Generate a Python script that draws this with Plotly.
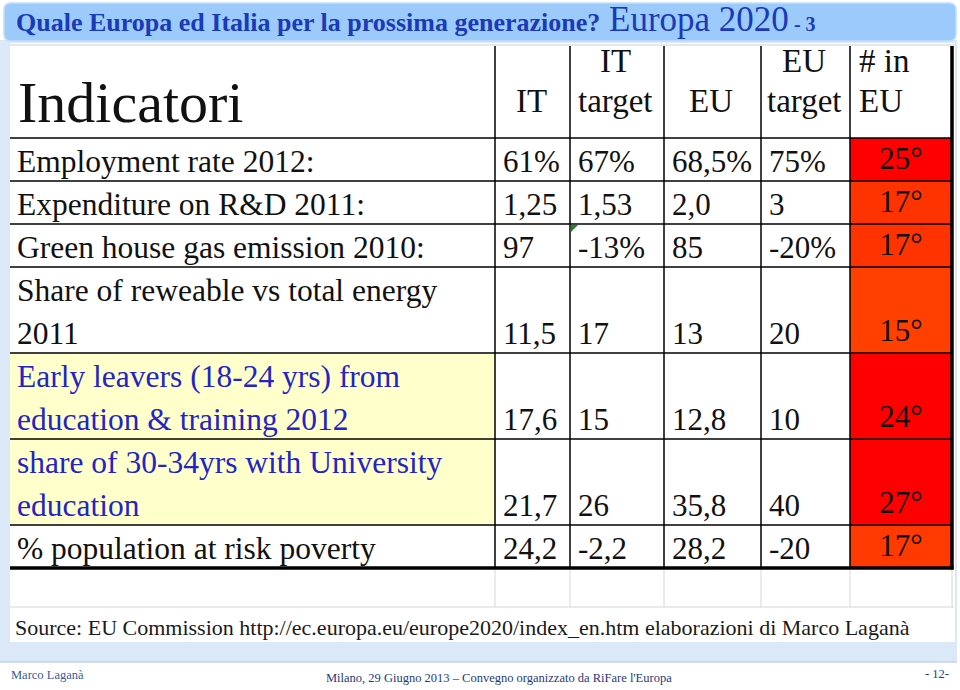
import plotly.graph_objects as go

# ---------------- data ----------------
title_main = "Quale Europa ed Italia per la prossima generazione?"
title_big = "Europa 2020"
title_suffix = " - 3"
first_header = "Indicatori"
column_headers = [["IT"], ["IT", "target"], ["EU"], ["EU", "target"], ["# in", "EU"]]
indicators = [
    ["Employment rate 2012:"],
    ["Expenditure on R&D 2011:"],
    ["Green house gas emission 2010:"],
    ["Share of reweable vs total energy", "2011"],
    ["Early leavers (18-24 yrs) from", "education & training 2012"],
    ["share of 30-34yrs with University", "education"],
    ["% population at risk poverty"],
]
it_values = ["61%", "1,25", "97", "11,5", "17,6", "21,7", "24,2"]
it_targets = ["67%", "1,53", "-13%", "17", "15", "26", "-2,2"]
eu_values = ["68,5%", "2,0", "85", "13", "12,8", "35,8", "28,2"]
eu_targets = ["75%", "3", "-20%", "20", "10", "40", "-20"]
eu_rank = [25, 17, 17, 15, 24, 27, 17]
source_note = ("Source: EU Commission http://ec.europa.eu/europe2020/index_en.htm "
               "elaborazioni di Marco Laganà")
footer_left = "Marco Laganà"
footer_center = "Milano, 29 Giugno 2013 – Convegno organizzato da RiFare l'Europa"
footer_right = "- 12-"

# ---------------- styles / geometry ----------------
SERIF = "Liberation Serif, DejaVu Serif, serif"
TITLE_BLUE = "#1A3AB8"
HILITE_TEXT = "#2424C4"
HILITE_FILL = "#FFFFCC"
rank_colors = ["#FF0000", "#FF3300", "#FF3300", "#FF4000", "#FF0000", "#FF0000", "#FF3A00"]
highlight_rows = {4, 5}

COL = [10, 495, 570, 664, 761, 850, 952]
TOP = 46
HEAD_BOTTOM = 138
LINE_H = 43
BODY_FS = 31.5
VAL_FS = 31
HEAD_FS = 33

row_bottoms = []
b = HEAD_BOTTOM
for lines in indicators:
    b += LINE_H * len(lines)
    row_bottoms.append(b)
row_tops = [HEAD_BOTTOM] + row_bottoms[:-1]
TABLE_BOTTOM = row_bottoms[-1]

shapes = []
annotations = []


def ycenter(baseline, size):
    return baseline - 0.34 * size


def txt(x, baseline, text, size, color="#111111", anchor="left", bold=False, family=SERIF):
    annotations.append(dict(
        x=x, y=ycenter(baseline, size), xref="x", yref="y", text=(f"<b>{text}</b>" if bold else text),
        showarrow=False, xanchor=anchor, yanchor="middle", borderpad=0,
        font=dict(family=family, size=size, color=color)))


def rect(x0, y0, x1, y1, fill, line=None, lw=0, layer="below"):
    shapes.append(dict(type="rect", xref="x", yref="y", x0=x0, y0=y0, x1=x1, y1=y1,
                       fillcolor=fill, line=dict(color=line or fill, width=lw), layer=layer))


def hline(x0, x1, y, color="#000000", w=1.5):
    shapes.append(dict(type="line", xref="x", yref="y", x0=x0, x1=x1, y0=y, y1=y,
                       line=dict(color=color, width=w), layer="above"))


def vline(x, y0, y1, color="#000000", w=1.5):
    shapes.append(dict(type="line", xref="x", yref="y", x0=x, x1=x, y0=y0, y1=y1,
                       line=dict(color=color, width=w), layer="above"))


# slide background frame
rect(0, 40, 957, 662, "#DAE8F7")
hline(0, 957, 662, "#A9C6E8", 1)
rect(10, 43, 955, 642, "#FFFFFF")
hline(10, 955, 45, "#CFCFCF", 1)

# title bar (rounded)
r = 7
x0, x1, y0, y1 = 4, 956, 3, 41
path = (f"M {x0+r},{y0} L {x1-r},{y0} Q {x1},{y0} {x1},{y0+r} L {x1},{y1-r} Q {x1},{y1} {x1-r},{y1} "
        f"L {x0+r},{y1} Q {x0},{y1} {x0},{y1-r} L {x0},{y0+r} Q {x0},{y0} {x0+r},{y0} Z")
shapes.append(dict(type="path", xref="x", yref="y", path=path, fillcolor="#9CCBFB",
                   line=dict(color="#C2DEFB", width=1.5), layer="below"))

# cell fills
for i, (t, bt) in enumerate(zip(row_tops, row_bottoms)):
    if i in highlight_rows:
        rect(COL[0], t, COL[1], bt, HILITE_FILL)
    rect(COL[5], t, COL[6], bt, rank_colors[i])

# excel gridlines below the table
for x in COL[1:]:
    vline(x, TABLE_BOTTOM, 607, "#D6D6D6", 1)
hline(COL[0], COL[6] + 2, 607, "#D6D6D6", 1)

# table rules
for x in COL[1:6]:
    vline(x, TOP, TABLE_BOTTOM)
vline(COL[6], TOP, TABLE_BOTTOM + 1.5, w=3.5)
hline(COL[0], COL[6], HEAD_BOTTOM)
for yb in row_bottoms[:-1]:
    hline(COL[0], COL[6], yb)
hline(COL[0], COL[6] + 1.5, TABLE_BOTTOM, w=3.5)

# comment marker (green triangle) in a cell
gx, gy = COL[2] + 1, row_tops[2] + 1
shapes.append(dict(type="path", xref="x", yref="y", path=f"M {gx},{gy} L {gx+7},{gy} L {gx},{gy+7} Z",
                   fillcolor="#1E8A1E", line=dict(width=0), layer="above"))

# title
annotations.append(dict(
    x=15, y=ycenter(31.5, 35), xref="x", yref="y", showarrow=False, xanchor="left", yanchor="middle",
    borderpad=0,
    text=(f"<b>{title_main}</b><span style='font-size:35px'> {title_big}</span>"
          f"<b><span style='font-size:20px'>{title_suffix}</span></b>"),
    font=dict(family=SERIF, size=26, color=TITLE_BLUE)))

# header
txt(17, 122, first_header, 58)
for j, lines in enumerate(column_headers, start=1):
    bases = [112] if len(lines) == 1 else [72, 112]
    for ln, bl in zip(lines, bases):
        if j == 5:
            txt(COL[j] + 8, bl, ln, HEAD_FS)
        else:
            txt((COL[j] + COL[j + 1]) / 2 - 1.5, bl, ln, HEAD_FS, anchor="center")

# body
value_cols = [it_values, it_targets, eu_values, eu_targets]
for i, lines in enumerate(indicators):
    last_base = row_bottoms[i] - 9
    color = HILITE_TEXT if i in highlight_rows else "#111111"
    n = len(lines)
    for k, ln in enumerate(lines):
        txt(16, last_base - (n - 1 - k) * LINE_H, ln, BODY_FS, color)
    for j, col in enumerate(value_cols, start=1):
        txt(COL[j] + 7, last_base, col[i], VAL_FS)

# rank column as a text trace on the axes
rank_base = [bt - 9 for bt in row_bottoms]
fig = go.Figure()
fig.add_trace(go.Scatter(
    x=[(COL[5] + COL[6]) / 2] * len(eu_rank),
    y=[ycenter(bl, VAL_FS) for bl in rank_base],
    mode="text", text=[f"{v}°" for v in eu_rank], textposition="middle center",
    textfont=dict(family=SERIF, size=VAL_FS, color="#111111"),
    hoverinfo="skip", showlegend=False, cliponaxis=False))

# source + footer
txt(14, 635, source_note, 22, "#1A1A1A")
txt(10, 679, footer_left, 12.5, "#3A5A9A")
txt(499, 682, footer_center, 12.5, "#1F3A7A", anchor="center")
txt(950, 678, footer_right, 12.5, "#1F3A7A", anchor="right")

fig.update_layout(
    width=960, height=690, margin=dict(l=0, r=0, t=0, b=0),
    paper_bgcolor="#FFFFFF", plot_bgcolor="#FFFFFF",
    xaxis=dict(range=[0, 960], visible=False, fixedrange=True),
    yaxis=dict(range=[690, 0], visible=False, fixedrange=True),
    shapes=shapes, annotations=annotations, showlegend=False,
)

fig.write_html("out.html", config={"displayModeBar": False},
               post_script="document.body.style.margin='0px';")
